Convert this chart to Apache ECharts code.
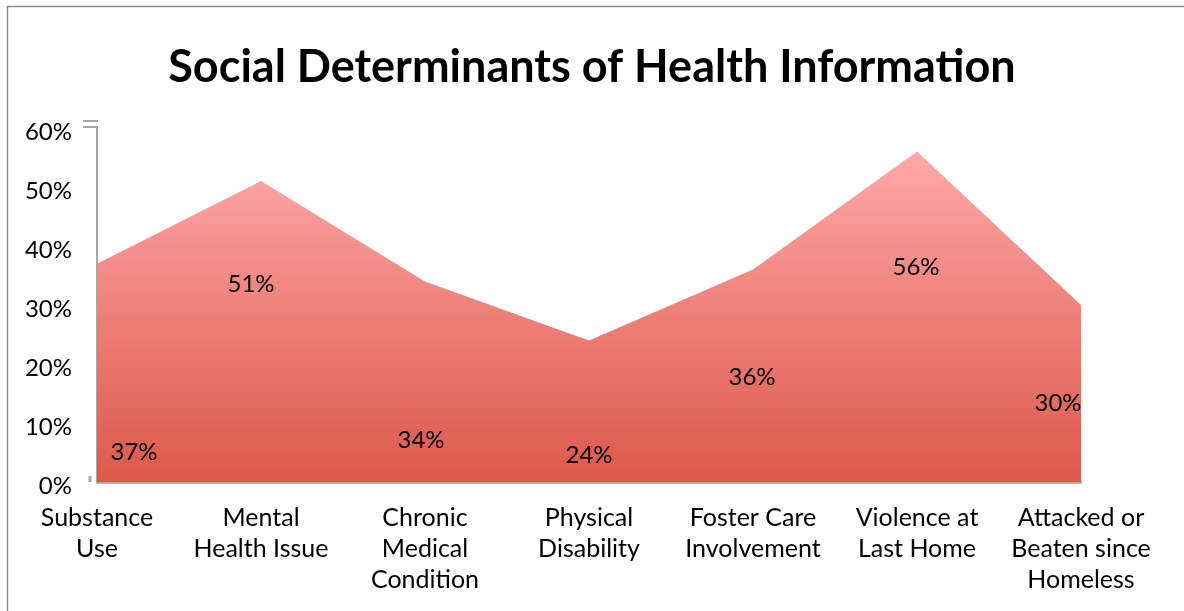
<!DOCTYPE html>
<html>
<head>
<meta charset="utf-8">
<script src="https://cdn.jsdelivr.net/npm/echarts@6/dist/echarts.min.js"></script>
<style>
html,body{margin:0;padding:0;background:#fff;}
#chart{width:1184px;height:611px;}
</style>
</head>
<body>
<div id="chart"></div>
<script>
var title = 'Social Determinants of Health Information';
var categories = [
  'Substance\nUse',
  'Mental\nHealth Issue',
  'Chronic\nMedical\nCondition',
  'Physical\nDisability',
  'Foster Care\nInvolvement',
  'Violence at\nLast Home',
  'Attacked or\nBeaten since\nHomeless'
];
var values = [37, 51, 34, 24, 36, 56, 30];
var yTicks = [0, 10, 20, 30, 40, 50, 60];

// label placement (pixel offsets from each point), mimicking the original layout
var labelOffsets = [[37, 189], [-10, 103], [-4, 159], [0, 115], [-1, 108], [-1, 116], [-23, 98]];

var FONT = 'Lato, "Noto Sans", sans-serif';
var chart = echarts.init(document.getElementById('chart'), null, {renderer: 'canvas'});

var seriesData = values.map(function (v, i) {
  return {
    value: v,
    label: { offset: labelOffsets[i] }
  };
});

chart.setOption({
  backgroundColor: '#ffffff',
  animation: false,
  title: {
    text: title,
    left: 'center',
    top: 40,
    textStyle: { fontFamily: FONT, fontWeight: 'bold', fontSize: 45, color: '#000' }
  },
  grid: { left: 97, right: 103, top: 128, bottom: 129, containLabel: false },
  xAxis: {
    type: 'category',
    data: categories,
    boundaryGap: false,
    axisLine: { show: true, lineStyle: { color: '#A6A6A6', width: 2.5 } },
    axisTick: { show: false },
    axisLabel: {
      interval: 0,
      margin: 20,
      fontFamily: FONT,
      fontSize: 25,
      lineHeight: 31,
      color: '#000',
      align: 'center'
    },
    splitLine: { show: false }
  },
  yAxis: {
    type: 'value',
    min: yTicks[0],
    max: yTicks[yTicks.length - 1],
    interval: 10,
    axisLine: { show: true, lineStyle: { color: '#A6A6A6', width: 2 } },
    axisTick: { show: false },
    splitLine: { show: false },
    axisLabel: {
      formatter: function (v) { return '{p|' + v + '%}'; },
      margin: 25,
      rich: {
        p: { fontFamily: FONT, fontSize: 24, color: '#000', padding: [8, 0, 0, 0] }
      }
    }
  },
  series: [{
    type: 'line',
    data: seriesData,
    symbol: 'circle',
    symbolSize: 1,
    showSymbol: true,
    itemStyle: { color: 'rgba(0,0,0,0)' },
    lineStyle: { width: 0, color: 'rgba(0,0,0,0)' },
    areaStyle: {
      opacity: 1,
      color: new echarts.graphic.LinearGradient(0, 0, 0, 1, [
        { offset: 0, color: '#FFA9A8' },
        { offset: 0.5, color: '#EE8079' },
        { offset: 1, color: '#DC584B' }
      ])
    },
    label: {
      show: true,
      position: 'inside',
      formatter: '{c}%',
      fontFamily: FONT,
      fontSize: 24,
      color: '#000'
    },
    z: 1
  }],
  graphic: [
    { type: 'rect', shape: { x: 7.5, y: 6.5, width: 1300, height: 800 }, style: { fill: null, stroke: '#8C8C8C', lineWidth: 1.5 }, silent: true },
    { type: 'line', shape: { x1: 83, y1: 121, x2: 98, y2: 121 }, style: { stroke: '#A6A6A6', lineWidth: 2 }, silent: true },
    { type: 'line', shape: { x1: 83, y1: 127, x2: 98, y2: 127 }, style: { stroke: '#A6A6A6', lineWidth: 2 }, silent: true },
    { type: 'line', shape: { x1: 90, y1: 476, x2: 90, y2: 482 }, style: { stroke: '#A6A6A6', lineWidth: 3 }, silent: true }
  ]
});
</script>
</body>
</html>
